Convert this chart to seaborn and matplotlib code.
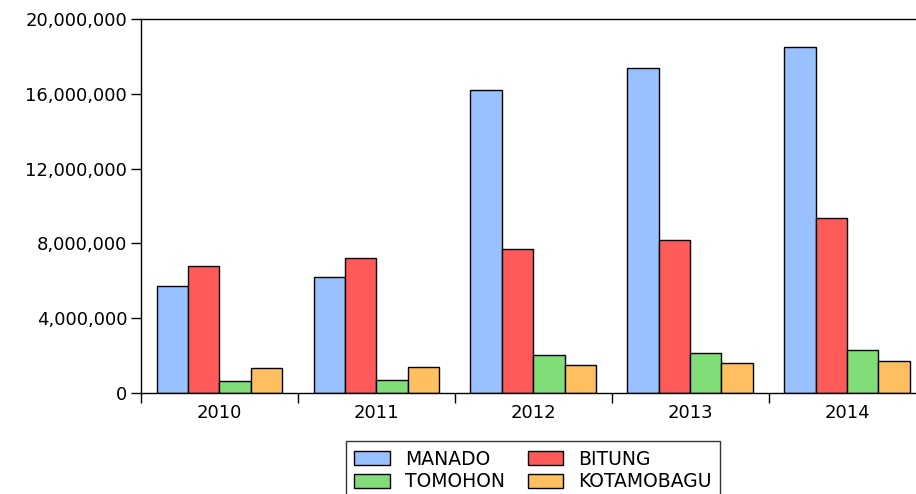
import pandas as pd
import matplotlib.pyplot as plt
import seaborn as sns
from matplotlib.ticker import FuncFormatter, FixedLocator

years = ['2010', '2011', '2012', '2013', '2014']
cities = ['MANADO', 'BITUNG', 'TOMOHON', 'KOTAMOBAGU']
manado = [5720000, 6200000, 16190000, 17360000, 18490000]
bitung = [6790000, 7220000, 7680000, 8180000, 9340000]
tomohon = [640000, 700000, 2030000, 2160000, 2280000]
kotamobagu = [1340000, 1390000, 1500000, 1600000, 1710000]
colors = ['#99C0FF', '#FF5A5A', '#80DD78', '#FFBF60']

# long format for seaborn
rows = []
for city, vals in zip(cities, [manado, bitung, tomohon, kotamobagu]):
    for y, v in zip(years, vals):
        rows.append({'Year': y, 'City': city, 'Value': v})
df = pd.DataFrame(rows)

sns.set_style('white')
plt.rcParams['font.family'] = ['DejaVu Sans']
plt.rcParams['text.color'] = 'black'
plt.rcParams['xtick.color'] = 'black'
plt.rcParams['ytick.color'] = 'black'

fig = plt.figure(figsize=(9.16, 4.94), dpi=100)
ax = fig.add_axes([0.154, 0.2045, 0.846, 0.757])

sns.barplot(data=df, x='Year', y='Value', hue='City', hue_order=cities,
            palette=colors, width=0.8, edgecolor='black', linewidth=1,
            saturation=1, ax=ax, legend=True)

ax.set_ylim(0, 20000000)
ax.set_xlim(-0.5, 4.44)
ax.set_yticks([0, 4000000, 8000000, 12000000, 16000000, 20000000])
ax.yaxis.set_major_formatter(FuncFormatter(lambda v, p: f'{int(v):,}'))
ax.set_xlabel('')
ax.set_ylabel('')

# boundary tick marks between year groups
ax.xaxis.set_minor_locator(FixedLocator([-0.5, 0.5, 1.5, 2.5, 3.5]))
ax.tick_params(axis='x', which='major', length=0, labelsize=13, pad=8)
ax.tick_params(axis='x', which='minor', length=7, width=1, direction='out', bottom=True)
ax.tick_params(axis='y', which='major', length=7, width=1, direction='out', left=True,
               labelsize=13, pad=3)

for side in ['left', 'bottom', 'top']:
    ax.spines[side].set_color('black')
    ax.spines[side].set_linewidth(1)
ax.spines['right'].set_visible(False)

# legend filled row by row: MANADO BITUNG / TOMOHON KOTAMOBAGU
handles, labels = ax.get_legend_handles_labels()
order = [0, 2, 1, 3]
ax.legend([handles[i] for i in order], [labels[i] for i in order], ncol=2,
          loc='upper center', bbox_to_anchor=(0.582, 0.107),
          bbox_transform=fig.transFigure, frameon=True, fancybox=False,
          edgecolor='black', fontsize=13.5, handlelength=1.9, handleheight=0.75,
          handletextpad=0.8, columnspacing=1.2, borderaxespad=0,
          borderpad=0.45, labelspacing=0.2)

fig.savefig('out.png', dpi=100)
